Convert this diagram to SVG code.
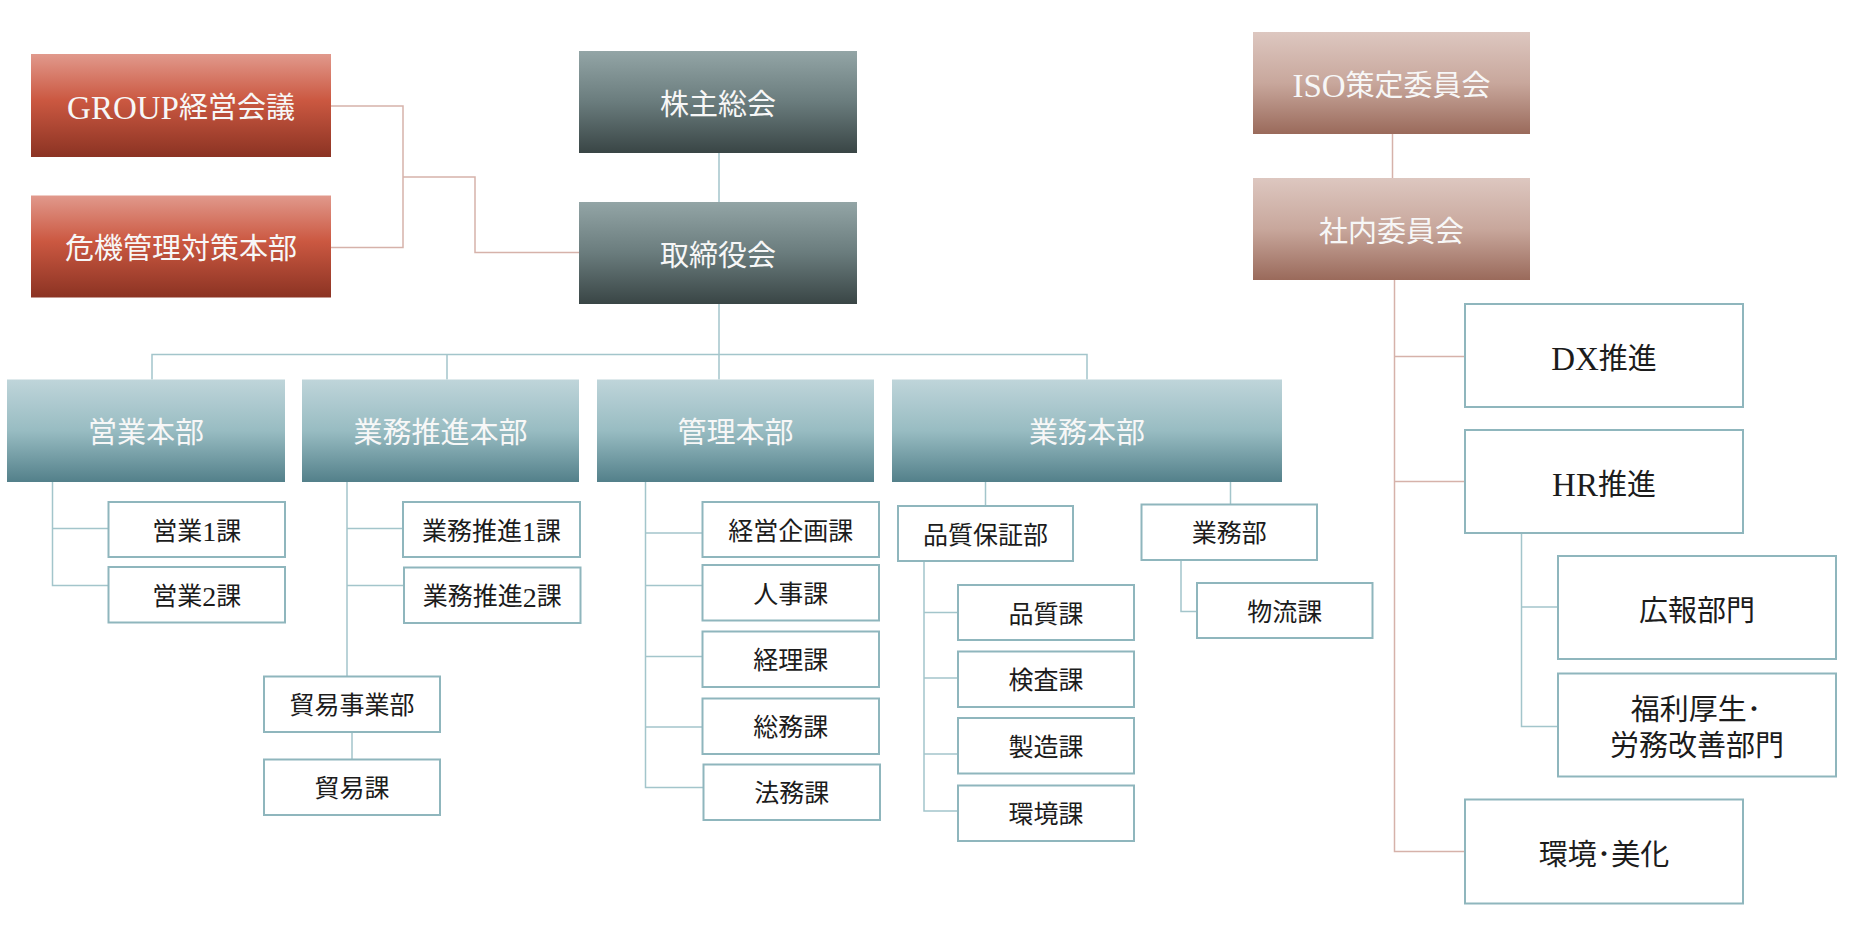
<svg xmlns="http://www.w3.org/2000/svg" width="1849" height="931" viewBox="0 0 1849 931">
<defs>
<linearGradient id="gRed" x1="0" y1="0" x2="0" y2="1">
<stop offset="0" stop-color="#e1998c"/><stop offset="0.45" stop-color="#cb5841"/><stop offset="1" stop-color="#8b3323"/>
</linearGradient>
<linearGradient id="gSlate" x1="0" y1="0" x2="0" y2="1">
<stop offset="0" stop-color="#93a5a6"/><stop offset="0.5" stop-color="#6a7c7d"/><stop offset="1" stop-color="#394545"/>
</linearGradient>
<linearGradient id="gRose" x1="0" y1="0" x2="0" y2="1">
<stop offset="0" stop-color="#ddc7c0"/><stop offset="0.5" stop-color="#c8a79c"/><stop offset="1" stop-color="#9a6a5b"/>
</linearGradient>
<linearGradient id="gBlue" x1="0" y1="0" x2="0" y2="1">
<stop offset="0" stop-color="#bfd5da"/><stop offset="0.5" stop-color="#98bcc2"/><stop offset="1" stop-color="#53808a"/>
</linearGradient>
</defs>
<style>
text{font-family:"Liberation Serif","Noto Sans CJK JP",serif;text-anchor:middle;dominant-baseline:central}
.hd{font-size:29px;fill:#f7f7f7}
.sb{font-size:25px;fill:#1c1c1c}
.bg{font-size:29px;fill:#1c1c1c}
.lt{font-size:33px}
.dg{font-size:28px}
.red{fill:url(#gRed)}
.slate{fill:url(#gSlate)}
.rose{fill:url(#gRose)}
.blue{fill:url(#gBlue)}
.box{fill:#ffffff;stroke:#8fb6bd;stroke-width:2}
.cb{fill:none;stroke:#a3c5cb;stroke-width:1.5}
.cp{fill:none;stroke:#d6b2aa;stroke-width:1.5}
</style>
<rect width="1849" height="931" fill="#ffffff"/>
<g id="connectors">
<path class="cp" d="M331 106 H403 V247.5 H331"/>
<path class="cp" d="M403 177 H475 V252.5 H579"/>
<path class="cp" d="M1392.5 134 V178"/>
<path class="cp" d="M1394.5 280 V851.5 H1465"/>
<path class="cp" d="M1394.5 356.5 H1465"/>
<path class="cp" d="M1394.5 481.5 H1465"/>
<path class="cb" d="M719 153 V202"/>
<path class="cb" d="M719 304 V379.5"/>
<path class="cb" d="M152 379.5 V354.5 H1087 V379.5"/>
<path class="cb" d="M447 354.5 V379.5"/>
<path class="cb" d="M52.5 482 V585.5 H108.5"/>
<path class="cb" d="M52.5 528.5 H108.5"/>
<path class="cb" d="M347 482 V676.5"/>
<path class="cb" d="M347 528.5 H403"/>
<path class="cb" d="M347 585.5 H404"/>
<path class="cb" d="M352 732 V759.5"/>
<path class="cb" d="M645.5 482 V787.5 H703.5"/>
<path class="cb" d="M645.5 533 H702.5"/>
<path class="cb" d="M645.5 585.5 H702.5"/>
<path class="cb" d="M645.5 656.5 H702.5"/>
<path class="cb" d="M645.5 727 H702.5"/>
<path class="cb" d="M985.5 482 V506"/>
<path class="cb" d="M1230.5 482 V504.5"/>
<path class="cb" d="M924 561 V811 H958"/>
<path class="cb" d="M924 612.5 H958"/>
<path class="cb" d="M924 678 H958"/>
<path class="cb" d="M924 754 H958"/>
<path class="cb" d="M1181 560 V611.5 H1197"/>
<path class="cb" d="M1521.5 533 V726.5 H1558"/>
<path class="cb" d="M1521.5 607 H1558"/>
</g>
<g id="group-keiei"><rect class="red" x="31" y="54" width="300" height="103"/><text class="hd" x="181" y="107.5"><tspan class="lt">GROUP</tspan>経営会議</text></g>
<g id="kiki-kanri"><rect class="red" x="31" y="195.5" width="300" height="102"/><text class="hd" x="181" y="248.5">危機管理対策本部</text></g>
<g id="kabunushi"><rect class="slate" x="579" y="51" width="278" height="102"/><text class="hd" x="718" y="104.5">株主総会</text></g>
<g id="torishimariyaku"><rect class="slate" x="579" y="202" width="278" height="102"/><text class="hd" x="718" y="255.5">取締役会</text></g>
<g id="iso"><rect class="rose" x="1253" y="32" width="277" height="102"/><text class="hd" x="1391.5" y="85.5"><tspan class="lt">ISO</tspan>策定委員会</text></g>
<g id="shanai"><rect class="rose" x="1253" y="178" width="277" height="102"/><text class="hd" x="1391.5" y="231.5">社内委員会</text></g>
<g id="eigyo-honbu"><rect class="blue" x="7" y="379.5" width="278" height="102.5"/><text class="hd" x="146" y="433">営業本部</text></g>
<g id="gyomu-suishin-honbu"><rect class="blue" x="302" y="379.5" width="277" height="102.5"/><text class="hd" x="440.5" y="433">業務推進本部</text></g>
<g id="kanri-honbu"><rect class="blue" x="597" y="379.5" width="277" height="102.5"/><text class="hd" x="735.5" y="433">管理本部</text></g>
<g id="gyomu-honbu"><rect class="blue" x="892" y="379.5" width="390" height="102.5"/><text class="hd" x="1087" y="433">業務本部</text></g>
<g id="eigyo1"><rect class="box" x="108.5" y="502" width="176.5" height="55"/><text class="sb" x="196.75" y="531">営業<tspan class="dg">1</tspan>課</text></g>
<g id="eigyo2"><rect class="box" x="108.5" y="567" width="176.5" height="55.5"/><text class="sb" x="196.75" y="596">営業<tspan class="dg">2</tspan>課</text></g>
<g id="suishin1"><rect class="box" x="403" y="502" width="177" height="55"/><text class="sb" x="491.5" y="531">業務推進<tspan class="dg">1</tspan>課</text></g>
<g id="suishin2"><rect class="box" x="404" y="567.5" width="176.5" height="55.5"/><text class="sb" x="492.25" y="596.5">業務推進<tspan class="dg">2</tspan>課</text></g>
<g id="boeki-jigyo"><rect class="box" x="264" y="676.5" width="176" height="55.5"/><text class="sb" x="352" y="705.5">貿易事業部</text></g>
<g id="boeki-ka"><rect class="box" x="264" y="759.5" width="176" height="55.5"/><text class="sb" x="352" y="788.5">貿易課</text></g>
<g id="keiei-kikaku"><rect class="box" x="702.5" y="502" width="176.5" height="55"/><text class="sb" x="790.75" y="531">経営企画課</text></g>
<g id="jinji"><rect class="box" x="702.5" y="565" width="176.5" height="55.5"/><text class="sb" x="790.75" y="594">人事課</text></g>
<g id="keiri"><rect class="box" x="702.5" y="631.5" width="176.5" height="55.5"/><text class="sb" x="790.75" y="660.5">経理課</text></g>
<g id="somu"><rect class="box" x="702.5" y="698.5" width="176.5" height="55.5"/><text class="sb" x="790.75" y="727.5">総務課</text></g>
<g id="homu"><rect class="box" x="703.5" y="764.5" width="176.5" height="55.5"/><text class="sb" x="791.75" y="793.5">法務課</text></g>
<g id="hinshitsu-hosho"><rect class="box" x="898" y="506" width="175" height="55"/><text class="sb" x="985.5" y="535">品質保証部</text></g>
<g id="gyomubu"><rect class="box" x="1141.5" y="504.5" width="175.5" height="55.5"/><text class="sb" x="1229.25" y="533.5">業務部</text></g>
<g id="hinshitsu"><rect class="box" x="958" y="585" width="176" height="55"/><text class="sb" x="1046" y="614">品質課</text></g>
<g id="kensa"><rect class="box" x="958" y="651.5" width="176" height="55.5"/><text class="sb" x="1046" y="680.5">検査課</text></g>
<g id="seizo"><rect class="box" x="958" y="718" width="176" height="55.5"/><text class="sb" x="1046" y="747">製造課</text></g>
<g id="kankyo-ka"><rect class="box" x="958" y="785.5" width="176" height="55.5"/><text class="sb" x="1046" y="814.5">環境課</text></g>
<g id="butsuryu"><rect class="box" x="1197" y="583" width="175.5" height="55"/><text class="sb" x="1284.75" y="612">物流課</text></g>
<g id="dx"><rect class="box" x="1465" y="304" width="278" height="103"/><text class="bg" x="1604" y="358.5"><tspan class="lt">DX</tspan>推進</text></g>
<g id="hr"><rect class="box" x="1465" y="430" width="278" height="103"/><text class="bg" x="1604" y="484.5"><tspan class="lt">HR</tspan>推進</text></g>
<g id="koho"><rect class="box" x="1558" y="556" width="278" height="103"/><text class="bg" x="1697" y="610.5">広報部門</text></g>
<g id="fukuri"><rect class="box" x="1558" y="673.5" width="278" height="103"/><text class="bg" x="1696" y="710">福利厚生･</text><text class="bg" x="1697" y="746">労務改善部門</text></g>
<g id="kankyo-bika"><rect class="box" x="1465" y="799.5" width="278" height="104"/><text class="bg" x="1604" y="854.5">環境･美化</text></g>
</svg>
